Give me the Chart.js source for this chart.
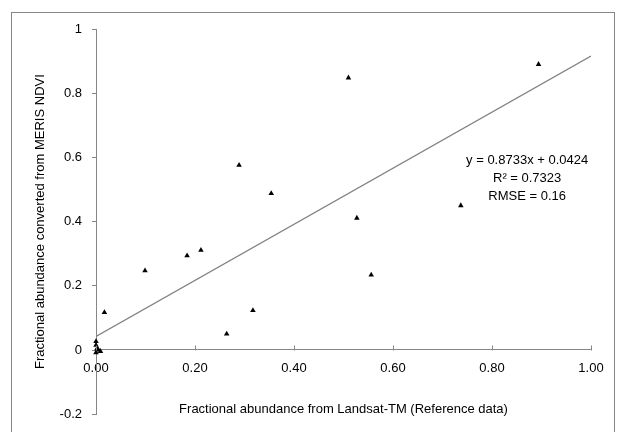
<!DOCTYPE html>
<html>
<head>
<meta charset="utf-8">
<script src="https://cdn.jsdelivr.net/npm/chart.js@4"></script>
<style>
html,body{margin:0;padding:0;background:#fff;}
#wrap{width:617px;height:432px;position:relative;}
</style>
</head>
<body>
<div id="wrap"><canvas id="c" width="617" height="432"></canvas></div>
<script>
// Observed data (Landsat-TM reference vs MERIS NDVI converted)
const landsatX = [0.894, 0.510, 0.289, 0.354, 0.527, 0.737, 0.212, 0.184, 0.099, 0.017, 0.556, 0.317, 0.264, 0.000, 0.000, 0.002, 0.005, 0.009, 0.000];
const merisY   = [0.890, 0.848, 0.576, 0.488, 0.411, 0.450, 0.311, 0.294, 0.247, 0.117, 0.234, 0.123, 0.050, 0.027, 0.015, 0.004, 0.000, -0.004, -0.008];
// Linear trendline endpoints (y = 0.8733x + 0.0424)
const trendX = [0, 1];
const trendY = [0.0424, 0.9157];
// Annotation text lines
const statsLines = ["y = 0.8733x + 0.0424", "R² = 0.7323", "RMSE = 0.16"];
const statsAnchor = {x: 0.871, y: 0.59};
// Axis titles
const xTitle = "Fractional abundance from Landsat-TM (Reference data)";
const yTitle = "Fractional abundance converted from MERIS NDVI";

const FONT = "'Liberation Sans', Arial, sans-serif";
const AXIS = '#868686';

const pts = landsatX.map((x, i) => ({x: x, y: merisY[i]}));
const trend = trendX.map((x, i) => ({x: x, y: trendY[i]}));

const decor = {
  id: 'decor',
  beforeDraw(chart) {
    const ctx = chart.ctx;
    ctx.save();
    ctx.fillStyle = '#fff';
    ctx.fillRect(0, 0, chart.width, chart.height);
    ctx.strokeStyle = AXIS;
    ctx.lineWidth = 1;
    ctx.strokeRect(11.5, 12.5, 603, 420);
    ctx.restore();
  },
  afterDatasetsDraw(chart) {
    const ctx = chart.ctx;
    const xs = chart.scales.x, ys = chart.scales.y;
    const y0 = ys.getPixelForValue(0);
    ctx.save();
    ctx.strokeStyle = AXIS;
    ctx.lineWidth = 1;
    ctx.beginPath();
    xs.ticks.forEach(t => {
      const px = Math.round(xs.getPixelForValue(t.value)) + 0.5;
      ctx.moveTo(px, Math.round(y0) + 0.5);
      ctx.lineTo(px, Math.round(y0) - 4.5);
    });
    ctx.stroke();
    ctx.fillStyle = '#000';
    ctx.font = "13px " + FONT;
    ctx.textAlign = 'center';
    ctx.textBaseline = 'middle';
    const ax = xs.getPixelForValue(statsAnchor.x);
    const ay = ys.getPixelForValue(statsAnchor.y);
    statsLines.forEach((s, i) => ctx.fillText(s, ax, ay + i * 18));
    ctx.restore();
  }
};

new Chart(document.getElementById('c'), {
  type: 'scatter',
  data: {
    datasets: [
      {
        label: 'Observed',
        data: pts,
        pointStyle: 'triangle',
        pointRadius: 3.2,
        pointHoverRadius: 3.2,
        backgroundColor: '#000',
        borderColor: '#000',
        borderWidth: 0,
        clip: false,
        order: 1
      },
      {
        label: 'Linear',
        type: 'line',
        data: trend,
        borderColor: '#7f7f7f',
        borderWidth: 1.25,
        pointRadius: 0,
        fill: false,
        order: 2
      }
    ]
  },
  plugins: [decor],
  options: {
    responsive: false,
    animation: false,
    events: [],
    layout: {padding: {left: 11, right: 26, top: 29, bottom: 17}},
    plugins: {legend: {display: false}, tooltip: {enabled: false}},
    scales: {
      x: {
        type: 'linear',
        position: {y: 0},
        min: 0, max: 1,
        ticks: {
          stepSize: 0.2,
          padding: 11,
          color: '#000',
          font: {family: FONT, size: 13},
          callback: v => v.toFixed(2),
          maxRotation: 0
        },
        grid: {display: true, drawOnChartArea: false, drawTicks: false},
        border: {display: true, color: AXIS, width: 1},
        title: {
          display: true,
          text: xTitle,
          color: '#000',
          font: {family: FONT, size: 13},
          padding: {top: 14, bottom: 0}
        }
      },
      y: {
        type: 'linear',
        position: 'left',
        min: -0.2, max: 1,
        afterFit: s => { s.width = 85; },
        ticks: {
          stepSize: 0.2,
          padding: 10,
          color: '#000',
          font: {family: FONT, size: 13},
          callback: v => String(Number(v.toFixed(1)))
        },
        grid: {display: true, drawOnChartArea: false, drawTicks: true, tickLength: 4, color: AXIS},
        border: {display: true, color: AXIS, width: 1},
        title: {
          display: true,
          text: yTitle,
          color: '#000',
          font: {family: FONT, size: 13},
          padding: {top: 22, bottom: 0}
        }
      }
    }
  }
});
</script>
</body>
</html>
